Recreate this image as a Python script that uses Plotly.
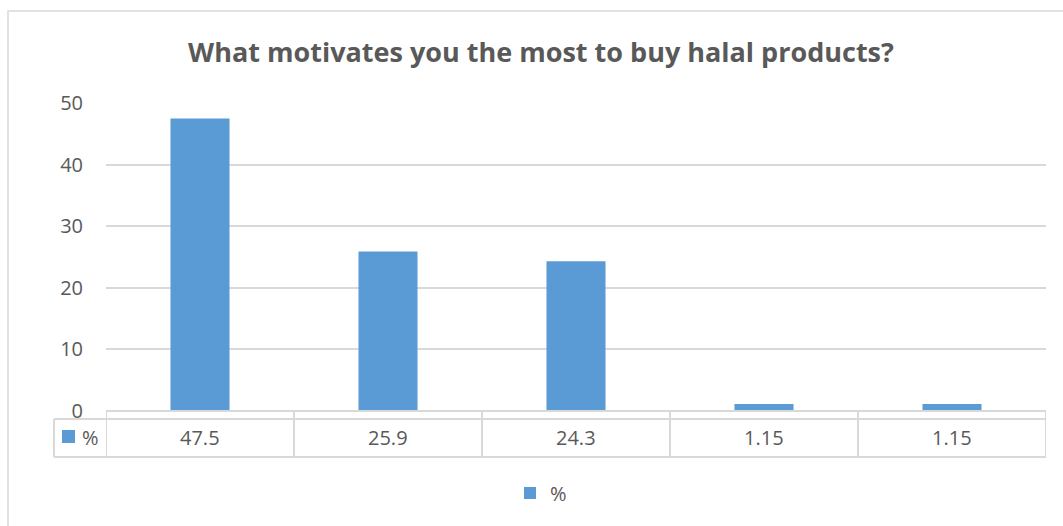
import plotly.graph_objects as go

# Survey answers (five options), share of respondents in percent
options = [1, 2, 3, 4, 5]
share = [47.5, 25.9, 24.3, 1.15, 1.15]
value_labels = ["47.5", "25.9", "24.3", "1.15", "1.15"]
series_name = "%"
y_ticks = [0, 10, 20, 30, 40, 50]

W, H = 1063, 526
L, R, T, B = 106, 1046, 103, 411  # plot area in pixels
BAR = "#5B9BD5"
GRID = "#D9D9D9"
TEXT = "#595959"
FONT = "Open Sans"


def px(x):
    return (x - L) / (R - L)


def py(y):
    return (B - y) / (B - T)


fig = go.Figure()
fig.add_trace(go.Bar(
    x=list(range(len(options))), y=share, name=series_name,
    marker=dict(color=BAR, line=dict(width=0)),
    showlegend=True,
))

shapes = []
# outer chart frame
shapes.append(dict(type="rect", xref="paper", yref="paper",
                   x0=px(8), x1=px(1075), y0=py(11), y1=py(540),
                   line=dict(color=GRID, width=1.5), layer="below"))

# data table under the plot: horizontal rules
line_style = dict(color=GRID, width=2)
shapes.append(dict(type="line", xref="paper", yref="paper",
                   x0=0, x1=1, y0=py(411), y1=py(411), line=line_style))
shapes.append(dict(type="line", xref="paper", yref="paper",
                   x0=px(54), x1=1, y0=py(419), y1=py(419), line=line_style))
shapes.append(dict(type="line", xref="paper", yref="paper",
                   x0=px(54), x1=1, y0=py(457), y1=py(457), line=line_style))
# vertical rules at category boundaries
n = len(options)
for i in range(n + 1):
    shapes.append(dict(type="line", xref="x", yref="paper",
                       x0=i - 0.5, x1=i - 0.5, y0=py(411), y1=py(457),
                       line=line_style))
# left edge of the legend-key cell
shapes.append(dict(type="line", xref="paper", yref="paper",
                   x0=px(54), x1=px(54), y0=py(419), y1=py(457),
                   line=line_style))
# legend-key swatch inside the table
shapes.append(dict(type="rect", xref="paper", yref="paper",
                   x0=px(62), x1=px(75), y0=py(430), y1=py(443),
                   fillcolor=BAR, line=dict(width=0)))

annotations = []
for i, lab in enumerate(value_labels):
    annotations.append(dict(x=i, xref="x", y=py(438), yref="paper",
                            text=lab, showarrow=False,
                            font=dict(family=FONT, size=20, color=TEXT),
                            xanchor="center", yanchor="middle"))
annotations.append(dict(x=px(80), xref="paper", y=py(438), yref="paper",
                        text=series_name, showarrow=False,
                        font=dict(family=FONT, size=20, color=TEXT),
                        xanchor="left", yanchor="middle"))

fig.update_layout(
    width=W, height=H,
    margin=dict(l=L, r=W - R, t=T, b=H - B),
    paper_bgcolor="white", plot_bgcolor="white",
    title=dict(text="<b>What motivates you the most to buy halal products?</b>",
               x=541 / W, xanchor="center", xref="container",
               y=1 - 53 / H, yanchor="middle", yref="container",
               font=dict(family=FONT, size=27, color=TEXT)),
    bargap=0.686,
    xaxis=dict(range=[-0.5, n - 0.5], showticklabels=False, showgrid=False,
               zeroline=False, showline=False, ticks=""),
    yaxis=dict(range=[0, 50], tickvals=y_ticks, showgrid=True,
               gridcolor=GRID, gridwidth=1.5, zeroline=False, showline=False,
               ticks="", ticklabelstandoff=22,
               tickfont=dict(family=FONT, size=20, color=TEXT)),
    legend=dict(orientation="h", x=px(541), xanchor="center",
                y=py(493), yanchor="middle",
                font=dict(family=FONT, size=20, color=TEXT)),
    shapes=shapes, annotations=annotations,
)

fig.write_html("out.html")
